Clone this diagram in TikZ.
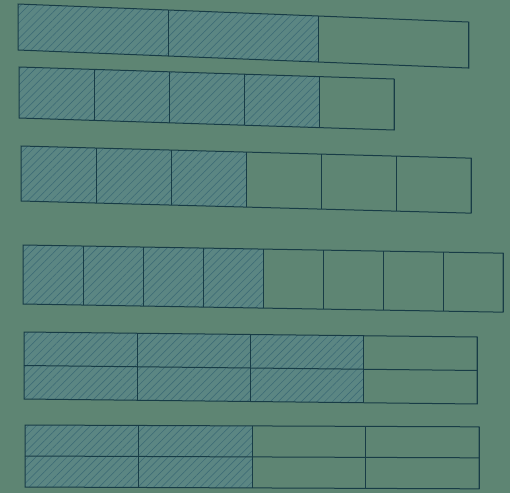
\documentclass[tikz,border=0pt]{standalone}
\usepackage{tikz}
\usetikzlibrary{patterns.meta}

\definecolor{pagegreen}{HTML}{5E8573}
\definecolor{cellteal}{HTML}{5B8683}
\definecolor{hatchblue}{HTML}{3A6874}
\definecolor{inkblue}{HTML}{183C46}

\begin{document}
\begin{tikzpicture}[
  x=1pt,
  y=-1pt,
  page/.style={fill=pagegreen},
  frame/.style={draw=inkblue,line width=1pt},
  hatch/.style={preaction={fill=cellteal},
    pattern={Lines[angle=45,distance=5.5pt,line width=0.5pt]},pattern color=hatchblue}
]
\useasboundingbox (0,0) rectangle (510,493);
\path[page] (0,0) rectangle (510,493);
% left/top/height/cell width/cells/shaded/slant/rows
\foreach \lx/\ty/\h/\w/\n/\s/\k/\rows in {
  18/4/46/150.3/3/2/0.040/1,
  19/67/51/75/5/4/0.032/1,
  21/146/55/75/6/3/0.027/1,
  23/245/59/60/8/4/0.017/1,
  24/332/67/113.25/4/3/0.011/2,
  25/425/62/113.5/4/2/0.004/2} {
  \begin{scope}[shift={(\lx,\ty)},yslant=-\k]
    \foreach \i in {1,...,\s}
      \path[hatch] ({(\i-1)*\w},0) rectangle ({\i*\w},\h);
    \draw[frame] (0,0) rectangle ({\n*\w},\h);
    \foreach \i in {1,...,\n}
      \draw[frame] ({\i*\w},0) -- ({\i*\w},\h);
    \ifnum\rows=2
      \draw[frame] (0,{\h/2}) -- ({\n*\w},{\h/2});
    \fi
  \end{scope}
}
\end{tikzpicture}
\end{document}
